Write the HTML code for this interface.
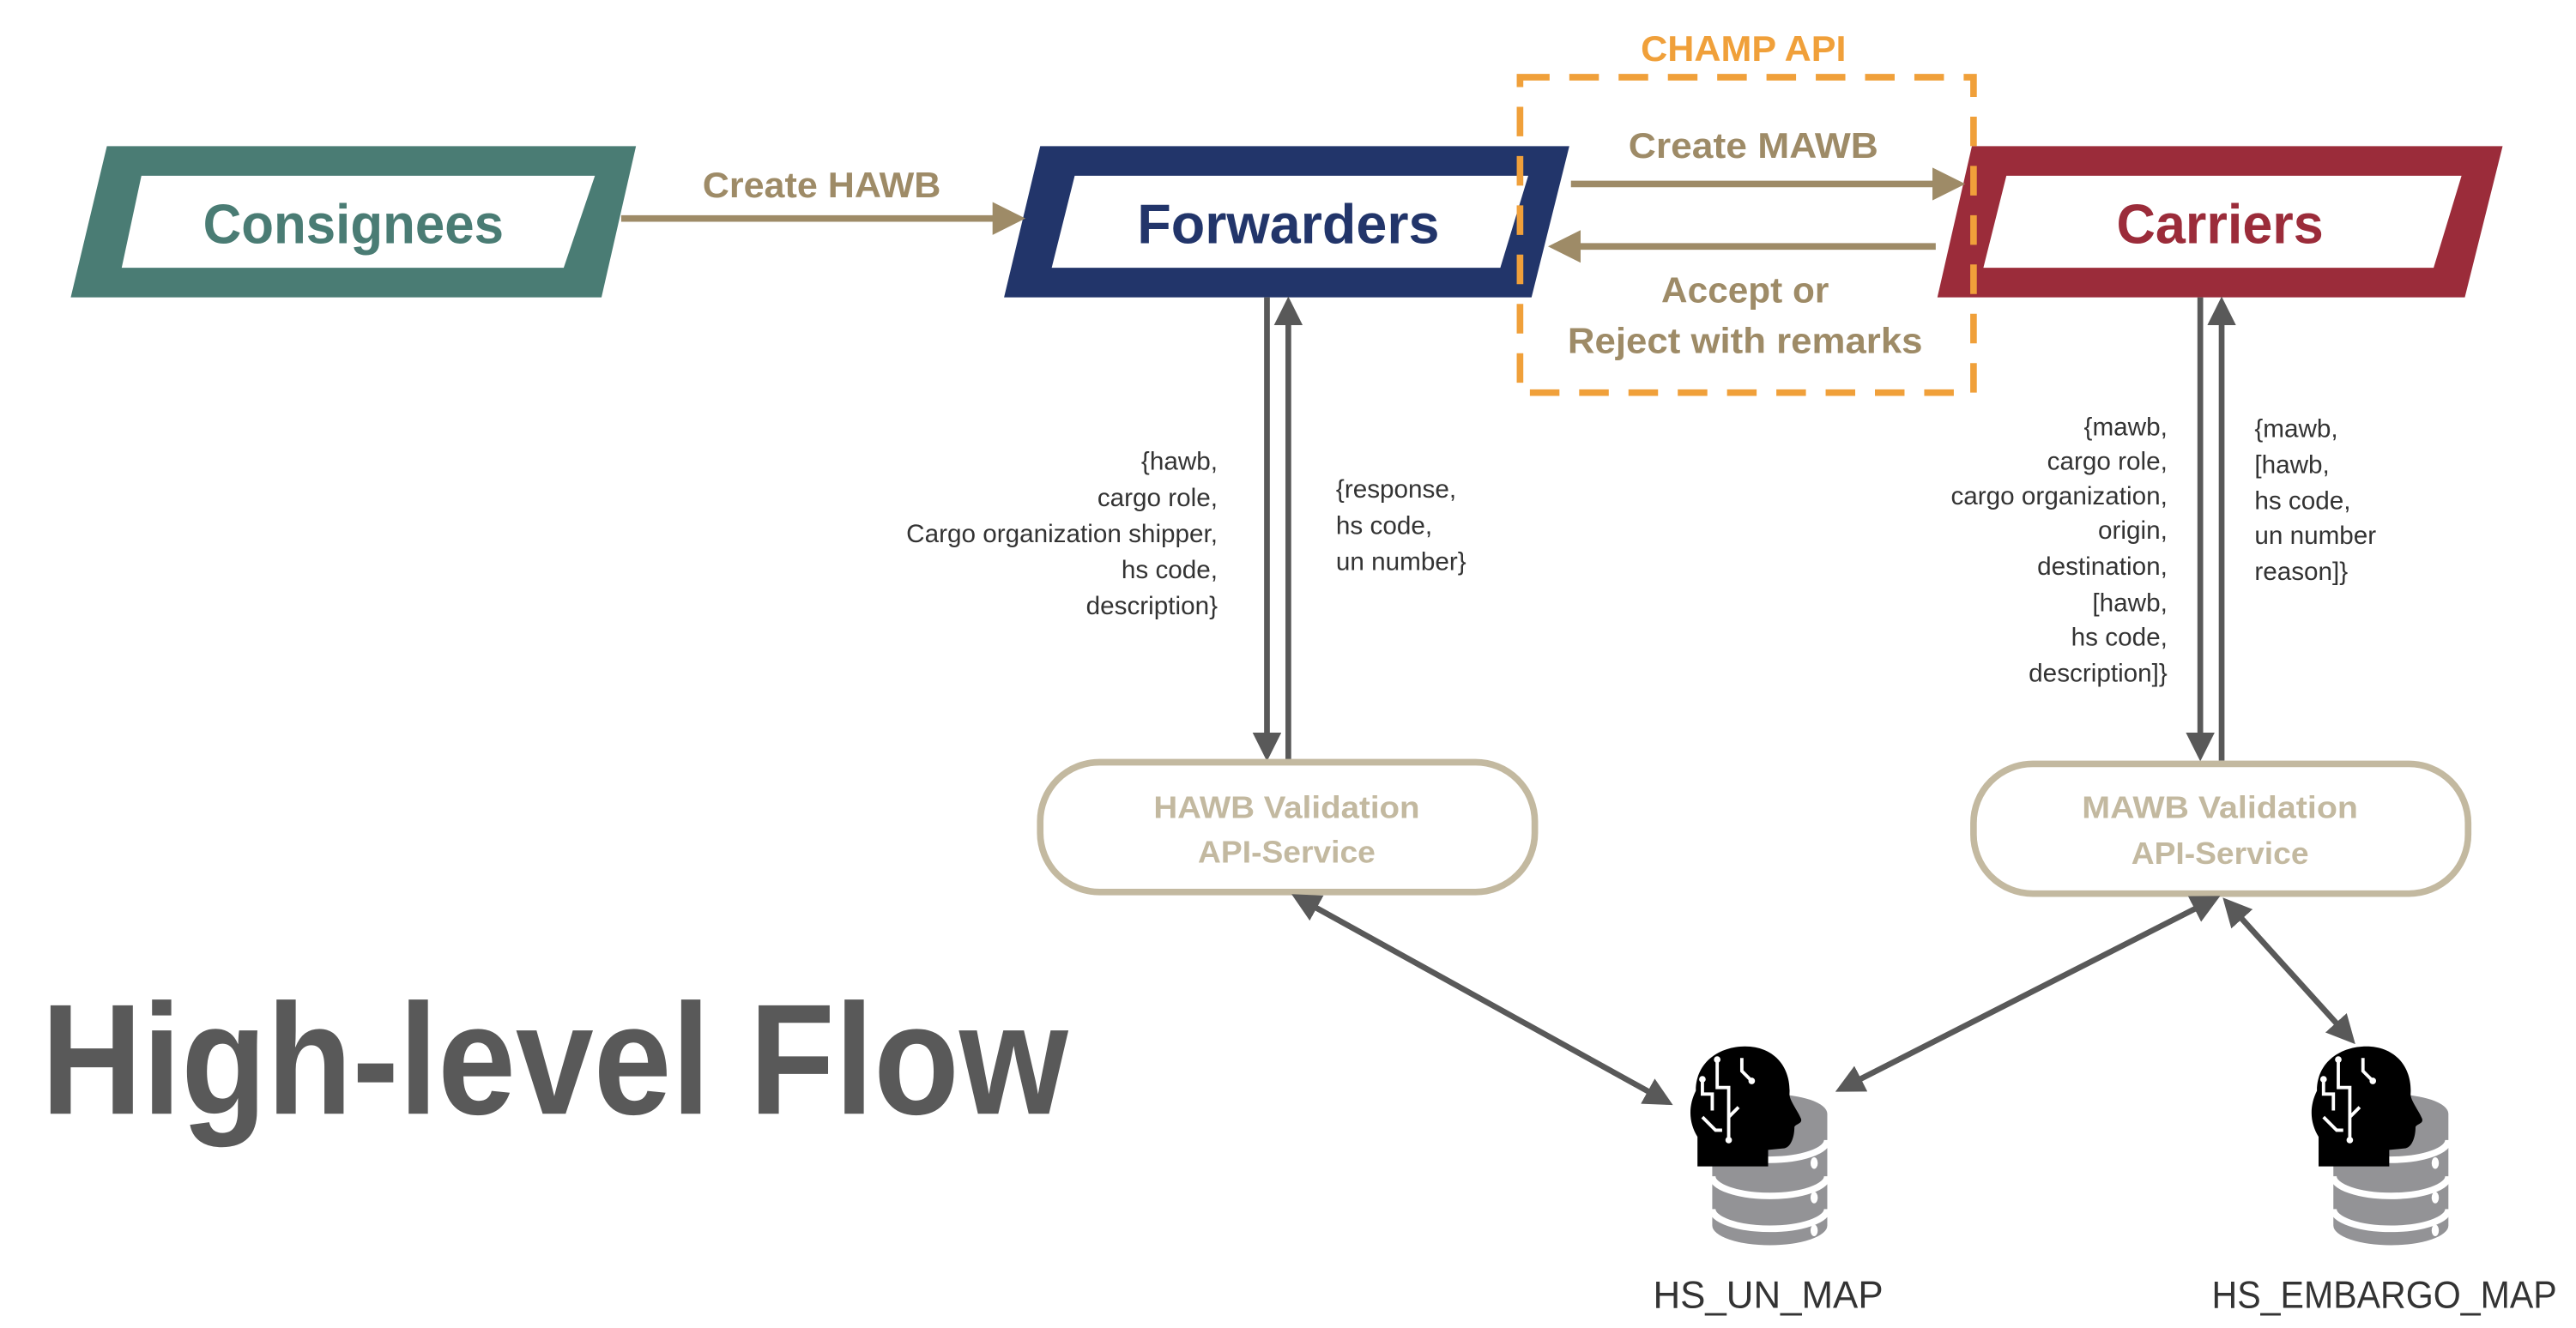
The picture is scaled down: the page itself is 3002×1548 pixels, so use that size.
<!DOCTYPE html>
<html><head><meta charset="utf-8"><style>
html,body{margin:0;padding:0;background:#fff}
svg{display:block}
text{font-family:"Liberation Sans",sans-serif}
</style></head><body>
<svg width="3002" height="1548" viewBox="0 0 1567.6 808.4" xmlns="http://www.w3.org/2000/svg">
<defs>
<marker id="ta" markerWidth="5" markerHeight="5" refX="4" refY="2.5" orient="auto" markerUnits="strokeWidth"><path d="M0,0 L5,2.5 L0,5 z" fill="#9e8b67"/></marker>
<marker id="ga" markerWidth="5" markerHeight="5" refX="4" refY="2.5" orient="auto-start-reverse" markerUnits="strokeWidth"><path d="M0,0 L5,2.5 L0,5 z" fill="#595959"/></marker>
<g id="db">
  <path d="M0,14 L0,82 A35,12 0 0 0 70,82 L70,14 A35,12 0 0 0 0,14 z" fill="#939396"/>
  <path d="M0,30 A35,12 0 0 0 70,30" fill="none" stroke="#fff" stroke-width="4"/>
  <path d="M0,52 A35,12 0 0 0 70,52" fill="none" stroke="#fff" stroke-width="4"/>
  <path d="M0,72 A35,12 0 0 0 70,72" fill="none" stroke="#fff" stroke-width="4"/>
  <ellipse cx="62" cy="44" rx="2.2" ry="3.5" fill="#fff"/>
  <ellipse cx="62" cy="65" rx="2.2" ry="3.5" fill="#fff"/>
  <ellipse cx="62" cy="85" rx="2.2" ry="3.5" fill="#fff"/>
  <g transform="translate(0,20)">
  <path d="M-10,-20 C-10,-38 5,-47 20,-47 C38,-47 48,-34 47,-18 C47,-14 52,-8 54,-3 C55,0 51,0 50,2 C50,8 48,14 44,15 L34,16 L34,26 L-9,26 L-9,8 C-14,0 -15,-10 -10,-20 z" fill="#000"/>
  <path d="M3,-38 L3,-22 L10,-22 L10,-12 M-6,-26 L-6,-18 L0,-18 L0,-8 M18,-40 L18,-32 L24,-26 M-6,-4 L2,4 L6,4 M10,-12 L10,10 M10,-4 L16,-10" stroke="#fff" stroke-width="2" fill="none"/>
  <circle cx="3" cy="-39" r="2" fill="#fff"/><circle cx="24" cy="-26" r="2" fill="#fff"/><circle cx="10" cy="10" r="2" fill="#fff"/><circle cx="-6" cy="-27" r="2" fill="#fff"/>
  </g>
</g>
</defs>

<path d="M65,89 L387,89 L366,181 L43,181 z" fill="#4a7c74"/>
<path d="M86,107 L362,107 L343,163 L74,163 z" fill="#fff"/>
<text x="215" y="148" font-size="34" font-weight="bold" fill="#4a7c74" text-anchor="middle" textLength="183" lengthAdjust="spacingAndGlyphs">Consignees</text>

<path d="M633,89 L955,89 L932,181 L611,181 z" fill="#22356a"/>
<path d="M654,107 L930,107 L913,163 L640,163 z" fill="#fff"/>
<text x="784" y="148" font-size="34" font-weight="bold" fill="#22356a" text-anchor="middle" textLength="184" lengthAdjust="spacingAndGlyphs">Forwarders</text>

<path d="M1200,89 L1523,89 L1500,181 L1179,181 z" fill="#9b2c3a"/>
<path d="M1221,107 L1498,107 L1481,163 L1207,163 z" fill="#fff"/>
<text x="1351" y="148" font-size="34" font-weight="bold" fill="#9b2c3a" text-anchor="middle" textLength="126" lengthAdjust="spacingAndGlyphs">Carriers</text>

<rect x="925" y="47" width="276" height="192" fill="none" stroke="#f0a03a" stroke-width="4" stroke-dasharray="18,12"/>
<text x="1061" y="37" font-size="22" font-weight="bold" fill="#f0a03a" text-anchor="middle" textLength="125" lengthAdjust="spacingAndGlyphs">CHAMP API</text>

<line x1="378" y1="133" x2="620" y2="133" stroke="#9e8b67" stroke-width="4" marker-end="url(#ta)"/>
<text x="500" y="120" font-size="22" font-weight="bold" fill="#9e8b67" text-anchor="middle" textLength="145" lengthAdjust="spacingAndGlyphs">Create HAWB</text>
<line x1="956" y1="112" x2="1192" y2="112" stroke="#9e8b67" stroke-width="4" marker-end="url(#ta)"/>
<text x="1067" y="96" font-size="22" font-weight="bold" fill="#9e8b67" text-anchor="middle" textLength="152" lengthAdjust="spacingAndGlyphs">Create MAWB</text>
<line x1="1178" y1="150" x2="946" y2="150" stroke="#9e8b67" stroke-width="4" marker-end="url(#ta)"/>
<text x="1062" y="184" font-size="22" font-weight="bold" fill="#9e8b67" text-anchor="middle" textLength="102" lengthAdjust="spacingAndGlyphs">Accept or</text>
<text x="1062" y="215" font-size="22" font-weight="bold" fill="#9e8b67" text-anchor="middle" textLength="216" lengthAdjust="spacingAndGlyphs">Reject with remarks</text>

<line x1="771" y1="181" x2="771" y2="460" stroke="#595959" stroke-width="3.5" marker-end="url(#ga)"/>
<line x1="784" y1="463" x2="784" y2="184" stroke="#595959" stroke-width="3.5" marker-end="url(#ga)"/>
<line x1="1339" y1="181" x2="1339" y2="460" stroke="#595959" stroke-width="3.5" marker-end="url(#ga)"/>
<line x1="1352" y1="463" x2="1352" y2="184" stroke="#595959" stroke-width="3.5" marker-end="url(#ga)"/>

<g font-size="15.5" fill="#333">
<text x="741" text-anchor="end"><tspan x="741" y="286">{hawb,</tspan><tspan x="741" y="308">cargo role,</tspan><tspan x="741" y="330">Cargo organization shipper,</tspan><tspan x="741" y="352">hs code,</tspan><tspan x="741" y="374">description}</tspan></text>
<text x="813"><tspan x="813" y="303">{response,</tspan><tspan x="813" y="325">hs code,</tspan><tspan x="813" y="347">un number}</tspan></text>
<text x="1319" text-anchor="end"><tspan x="1319" y="265">{mawb,</tspan><tspan x="1319" y="286">cargo role,</tspan><tspan x="1319" y="307">cargo organization,</tspan><tspan x="1319" y="328">origin,</tspan><tspan x="1319" y="350">destination,</tspan><tspan x="1319" y="372">[hawb,</tspan><tspan x="1319" y="393">hs code,</tspan><tspan x="1319" y="415">description]}</tspan></text>
<text x="1372"><tspan x="1372" y="266">{mawb,</tspan><tspan x="1372" y="288">[hawb,</tspan><tspan x="1372" y="310">hs code,</tspan><tspan x="1372" y="331">un number</tspan><tspan x="1372" y="353">reason]}</tspan></text>
</g>

<rect x="633" y="464" width="301" height="79" rx="36" ry="36" fill="#fff" stroke="#c3b9a0" stroke-width="4"/>
<text x="783" y="498" font-size="19" font-weight="bold" fill="#c3b9a0" text-anchor="middle" textLength="162" lengthAdjust="spacingAndGlyphs">HAWB Validation</text>
<text x="783" y="525" font-size="19" font-weight="bold" fill="#c3b9a0" text-anchor="middle" textLength="108" lengthAdjust="spacingAndGlyphs">API-Service</text>
<rect x="1201" y="465" width="301" height="79" rx="36" ry="36" fill="#fff" stroke="#c3b9a0" stroke-width="4"/>
<text x="1351" y="498" font-size="19" font-weight="bold" fill="#c3b9a0" text-anchor="middle" textLength="168" lengthAdjust="spacingAndGlyphs">MAWB Validation</text>
<text x="1351" y="526" font-size="19" font-weight="bold" fill="#c3b9a0" text-anchor="middle" textLength="108" lengthAdjust="spacingAndGlyphs">API-Service</text>

<line x1="789" y1="546" x2="1015" y2="671" stroke="#595959" stroke-width="3.5" marker-start="url(#ga)" marker-end="url(#ga)"/>
<line x1="1348" y1="547" x2="1120" y2="663" stroke="#595959" stroke-width="3.5" marker-start="url(#ga)" marker-end="url(#ga)"/>
<line x1="1355" y1="549" x2="1431" y2="633" stroke="#595959" stroke-width="3.5" marker-start="url(#ga)" marker-end="url(#ga)"/>

<use href="#db" x="1042" y="664"/>
<use href="#db" x="1420" y="664"/>
<text x="1076" y="796" font-size="23" fill="#333" text-anchor="middle" textLength="140" lengthAdjust="spacingAndGlyphs">HS_UN_MAP</text>
<text x="1451" y="796" font-size="23" fill="#333" text-anchor="middle" textLength="210" lengthAdjust="spacingAndGlyphs">HS_EMBARGO_MAP</text>

<text x="25" y="678" font-size="96" font-weight="bold" fill="#595959" textLength="625" lengthAdjust="spacingAndGlyphs">High-level Flow</text>
</svg>
</body></html>
